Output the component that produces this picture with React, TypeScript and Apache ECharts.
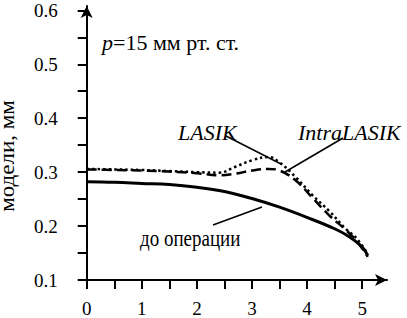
import React, { useEffect, useRef } from "react";
import * as echarts from "echarts";

// Distance from apex (x) and deflection of model, mm (y)
const beforeX = [0, 0.5, 1, 1.5, 2, 2.5, 3, 3.5, 4, 4.5, 4.75, 5, 5.1];
const beforeY = [0.282, 0.281, 0.279, 0.277, 0.272, 0.264, 0.251, 0.235, 0.216, 0.195, 0.181, 0.161, 0.145];

const lasikX = [0, 0.5, 1, 1.5, 2, 2.4, 2.7, 3, 3.3, 3.5, 3.8, 4.1, 4.4, 4.7, 4.9, 5.1];
const lasikY = [0.306, 0.305, 0.304, 0.302, 0.3, 0.299, 0.31, 0.322, 0.328, 0.318, 0.29, 0.257, 0.228, 0.195, 0.177, 0.148];

const intraX = [0, 0.5, 1, 1.5, 2, 2.4, 2.7, 3, 3.3, 3.5, 3.8, 4.1, 4.4, 4.7, 4.9, 5.1];
const intraY = [0.305, 0.304, 0.303, 0.301, 0.298, 0.294, 0.297, 0.303, 0.306, 0.303, 0.284, 0.252, 0.22, 0.193, 0.172, 0.143];

const xTicks = [0, 0.5, 1, 1.5, 2, 2.5, 3, 3.5, 4, 4.5, 5];
const xLabels = [0, 1, 2, 3, 4, 5];
const yTicks = [0.1, 0.15, 0.2, 0.25, 0.3, 0.35, 0.4, 0.45, 0.5, 0.55, 0.6];
const yLabels = [0.1, 0.2, 0.3, 0.4, 0.5, 0.6];

const yTitle = "модели, мм";
const pressureSymbol = "p";
const pressureText = "=15 мм рт. ст.";
const lasikName = "LASIK";
const intraName = "IntraLASIK";
const beforeName = "до операции";

const FONT = "Liberation Serif";

const pairs = (xs: number[], ys: number[]) => xs.map((x, i) => [x, ys[i]]);

export default function App() {
  const ref = useRef<HTMLDivElement>(null);
  useEffect(() => {
    if (!ref.current) return;
    const chart = echarts.init(ref.current, undefined, { renderer: "svg" });
    chart.setOption({
      animation: false,
      grid: { left: 86.7, right: 20, top: 6, bottom: 36 },
      xAxis: {
        type: "value",
        min: 0,
        max: 5.45,
        axisLine: { show: true, symbol: ["none", "arrow"], symbolSize: [9, 12], lineStyle: { color: "#000", width: 2 } },
        axisTick: { show: true, length: 9, customValues: xTicks, lineStyle: { color: "#000", width: 2 } },
        splitLine: { show: false },
        axisLabel: { customValues: xLabels, color: "#000", fontFamily: FONT, fontSize: 19, margin: 19 },
      },
      yAxis: {
        type: "value",
        min: 0.1,
        max: 0.608,
        axisLine: { show: true, symbol: ["none", "arrow"], symbolSize: [9, 12], lineStyle: { color: "#000", width: 2 } },
        axisTick: { show: true, length: 9, customValues: yTicks, lineStyle: { color: "#000", width: 2 } },
        splitLine: { show: false },
        axisLabel: {
          customValues: yLabels,
          color: "#000",
          fontFamily: FONT,
          fontSize: 19,
          margin: 29,
          formatter: (v: number) => v.toFixed(1),
        },
      },
      series: [
        {
          type: "line",
          name: beforeName,
          data: pairs(beforeX, beforeY),
          smooth: 0.4,
          symbol: "none",
          lineStyle: { color: "#000", width: 3 },
        },
        {
          type: "line",
          name: intraName,
          data: pairs(intraX, intraY),
          smooth: 0.4,
          symbol: "none",
          lineStyle: { color: "#000", width: 2.5, type: [10, 5] },
        },
        {
          type: "line",
          name: lasikName,
          data: pairs(lasikX, lasikY),
          smooth: 0.4,
          symbol: "none",
          lineStyle: { color: "#000", width: 2.5, type: [2.5, 3] },
        },
      ],
      graphic: [
        {
          type: "text",
          x: 8,
          y: 156,
          rotation: Math.PI / 2,
          scaleX: 1.15,
          style: { text: yTitle, fontFamily: FONT, fontSize: 20, fill: "#000", align: "center", verticalAlign: "middle" },
        },
        {
          type: "text",
          x: 102,
          y: 43,
          scaleX: 1.1,
          style: { text: pressureSymbol, fontFamily: FONT, fontSize: 20, fontStyle: "italic", fill: "#000", align: "left", verticalAlign: "middle" },
        },
        {
          type: "text",
          x: 113,
          y: 43,
          scaleX: 1.1,
          style: { text: pressureText, fontFamily: FONT, fontSize: 20, fill: "#000", align: "left", verticalAlign: "middle" },
        },
        {
          type: "text",
          x: 178,
          y: 132,
          style: { text: lasikName, fontFamily: FONT, fontSize: 22, fontStyle: "italic", fill: "#000", align: "left", verticalAlign: "middle" },
        },
        {
          type: "text",
          x: 298,
          y: 132,
          style: { text: intraName, fontFamily: FONT, fontSize: 22, fontStyle: "italic", fill: "#000", align: "left", verticalAlign: "middle" },
        },
        {
          type: "text",
          x: 140,
          y: 238,
          scaleY: 1.25,
          style: { text: beforeName, fontFamily: FONT, fontSize: 19, fill: "#000", align: "left", verticalAlign: "middle" },
        },
        { type: "line", shape: { x1: 226, y1: 136, x2: 281, y2: 164 }, style: { stroke: "#000", lineWidth: 1.5 } },
        { type: "line", shape: { x1: 343, y1: 138, x2: 285, y2: 172 }, style: { stroke: "#000", lineWidth: 1.5 } },
        { type: "line", shape: { x1: 213, y1: 225, x2: 262, y2: 207 }, style: { stroke: "#000", lineWidth: 1.5 } },
      ],
    });
    return () => chart.dispose();
  }, []);
  return <div ref={ref} style={{ width: 407, height: 318, position: "absolute", left: 0, top: 0 }} />;
}
